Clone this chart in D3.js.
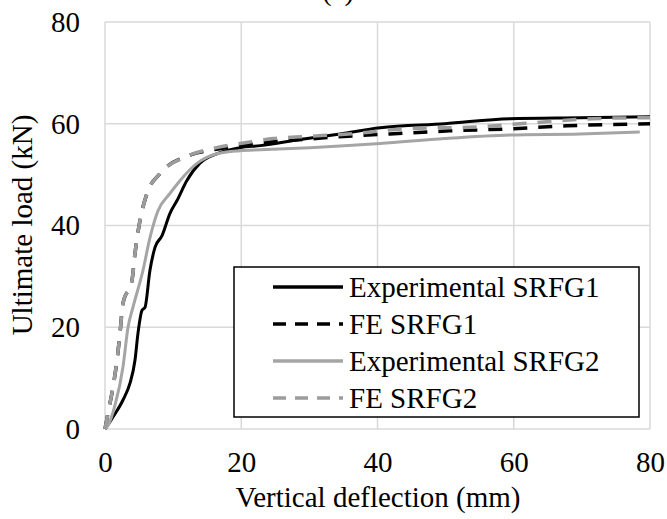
<!DOCTYPE html>
<html>
<head>
<meta charset="utf-8">
<script src="https://cdn.jsdelivr.net/npm/d3@7"></script>
<style>
  html, body { margin: 0; padding: 0; background: #fff; }
  svg { display: block; }
  text { font-family: "Liberation Serif", "Times New Roman", serif; fill: #000; }
</style>
</head>
<body>
<svg id="chart" width="667" height="519"></svg>
<script>
// Load–deflection curves, [deflection (mm), load (kN)]
const expSRFG1 = [[0,0],[0.25,0.45],[1.17,2.35],[2.64,5.7],[3.67,9.0],[4.4,13.5],[4.84,18.8],[5.43,23.3],[5.87,23.9],[6.6,31.2],[7.34,35.7],[8.37,38.0],[9.54,42.4],[10.57,44.9],[12.0,48.8],[13.9,52.2],[16.4,54.1],[19.8,55.3],[22.8,55.7],[28.6,56.9],[34.5,58.0],[40.4,59.2],[49.9,60.0],[59.4,61.0],[69.7,61.2],[80,61.4]];
const feSRFG1 = [[0,0],[0.44,3.1],[1.17,8.2],[1.76,13.5],[2.2,18.8],[2.64,24.7],[3.96,29.2],[4.4,34.5],[5.14,41.0],[6.17,46.3],[8.07,50.2],[12.2,53.7],[16.4,55.0],[20.8,55.8],[25,56.5],[30,57.0],[35,57.5],[41.8,58.0],[50.6,58.6],[59.4,59.0],[67.8,59.6],[80,60.0]];
const expSRFG2 = [[0,0],[0.3,0.4],[1.47,4.7],[2.64,12.2],[3.38,20.0],[4.1,23.9],[5.58,31.2],[6.6,37.6],[7.78,42.9],[9.54,46.3],[11.0,48.8],[13.5,52.2],[16.4,54.1],[19.8,54.7],[22.8,54.9],[30.1,55.3],[40.4,56.1],[49.9,57.1],[59.4,57.8],[69.7,58.0],[78.5,58.4]];
const feSRFG2 = [[0,0],[0.44,3.1],[1.17,8.2],[1.76,13.5],[2.2,18.8],[2.64,24.7],[3.96,29.2],[4.4,34.5],[5.14,41.0],[6.17,46.3],[8.07,50.2],[12.2,53.7],[16.4,55.3],[20.8,56.3],[24.7,57.1],[29.7,57.5],[37.7,58.2],[43.7,59.0],[55.0,59.4],[62.8,60.2],[71.6,61.0],[80,61.2]];

const xTicks = [0, 20, 40, 60, 80];
const yTicks = [0, 20, 40, 60, 80];
const seriesNames = ["Experimental SRFG1", "FE SRFG1", "Experimental SRFG2", "FE SRFG2"];
const titleText = "(a)";
const xTitle = "Vertical deflection (mm)";
const yTitle = "Ultimate load (kN)";

const svg = d3.select("#chart");
const plot = { left: 105, right: 650, top: 22, bottom: 429 };
const fontSize = "29px";

const x = d3.scaleLinear().domain([0, 80]).range([plot.left, plot.right]);
const y = d3.scaleLinear().domain([0, 80]).range([plot.bottom, plot.top]);

const grid = "#d9d9d9";

// gridlines
svg.append("g").selectAll("line").data(xTicks).join("line")
  .attr("x1", d => x(d)).attr("x2", d => x(d))
  .attr("y1", plot.top).attr("y2", plot.bottom)
  .attr("stroke", grid).attr("stroke-width", 1.5);
svg.append("g").selectAll("line").data(yTicks).join("line")
  .attr("x1", plot.left).attr("x2", plot.right)
  .attr("y1", d => y(d)).attr("y2", d => y(d))
  .attr("stroke", grid).attr("stroke-width", 1.5);

// axes (labels only; the frame comes from the gridlines)
const xAxis = svg.append("g").attr("transform", `translate(0,${plot.bottom})`)
  .call(d3.axisBottom(x).tickValues(xTicks).tickSize(0).tickPadding(22));
const yAxis = svg.append("g").attr("transform", `translate(${plot.left},0)`)
  .call(d3.axisLeft(y).tickValues(yTicks).tickSize(0).tickPadding(25));
[xAxis, yAxis].forEach(a => {
  a.select(".domain").remove();
  a.selectAll("text").style("font-family", '"Liberation Serif", serif').style("font-size", fontSize).attr("fill", "#000");
});

// curves
const line = d3.line().x(d => x(d[0])).y(d => y(d[1])).curve(d3.curveMonotoneX);
const styles = [
  { data: feSRFG1, color: "#000", dash: "14,11", width: 3.5 },
  { data: expSRFG1, color: "#000", dash: null, width: 3 },
  { data: expSRFG2, color: "#a5a5a5", dash: null, width: 3 },
  { data: feSRFG2, color: "#9c9c9c", dash: "14,11", width: 3.5 }
];
svg.append("g").selectAll("path").data(styles).join("path")
  .attr("d", d => line(d.data))
  .attr("fill", "none")
  .attr("stroke", d => d.color)
  .attr("stroke-width", d => d.width)
  .attr("stroke-dasharray", d => d.dash);

// legend
const legend = svg.append("g");
legend.append("rect").attr("x", 234).attr("y", 267).attr("width", 405).attr("height", 150)
  .attr("fill", "#fff").attr("stroke", "#000").attr("stroke-width", 1.5);
const legendOrder = [
  { name: seriesNames[0], color: "#000", dash: null },
  { name: seriesNames[1], color: "#000", dash: "13,9" },
  { name: seriesNames[2], color: "#a5a5a5", dash: null },
  { name: seriesNames[3], color: "#9c9c9c", dash: "13,9" }
];
const rows = legend.selectAll("g").data(legendOrder).join("g")
  .attr("transform", (d, i) => `translate(0,${287 + i * 37})`);
rows.append("line").attr("x1", 273).attr("x2", 343).attr("y1", 0).attr("y2", 0)
  .attr("stroke", d => d.color).attr("stroke-width", 3.5)
  .attr("stroke-dasharray", d => d.dash);
rows.append("text").attr("x", 349).attr("y", 10).style("font-size", fontSize).text(d => d.name);

// titles
svg.append("text").attr("x", 338).attr("y", 0).attr("text-anchor", "middle")
  .style("font-size", fontSize).text(titleText);
svg.append("text").attr("x", 378).attr("y", 507).attr("text-anchor", "middle")
  .style("font-size", fontSize).text(xTitle);
svg.append("text").attr("transform", "translate(32,225) rotate(-90)").attr("text-anchor", "middle")
  .style("font-size", fontSize).text(yTitle);
</script>
</body>
</html>
